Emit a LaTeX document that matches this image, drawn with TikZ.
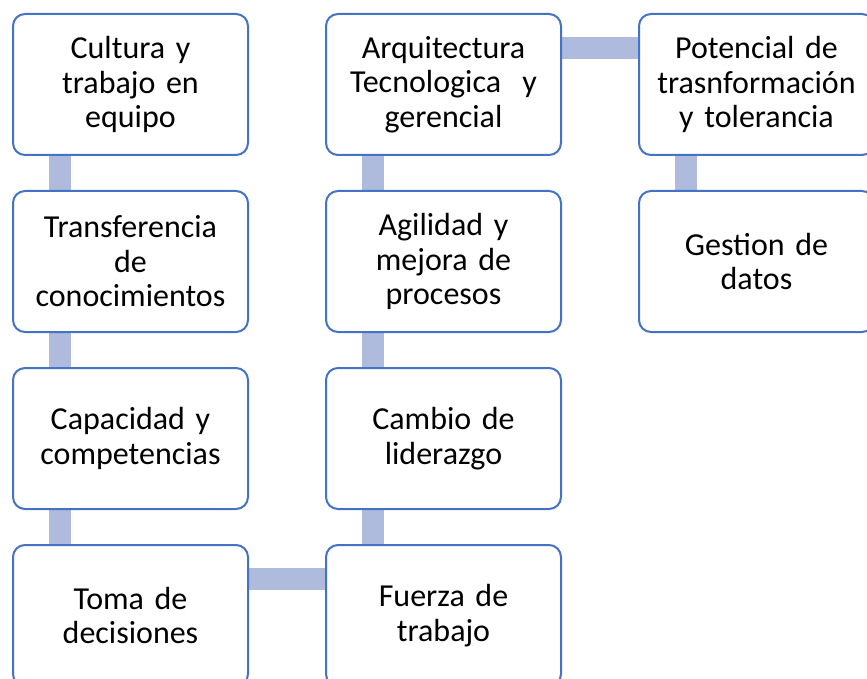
\documentclass[tikz,border=0pt]{standalone}
\usepackage{fontspec}
\setmainfont{Carlito}
\usepackage{tikz}
\usetikzlibrary{positioning,backgrounds}
\definecolor{boxblue}{RGB}{68,114,196}
\definecolor{barblue}{RGB}{174,187,221}

\begin{document}
\begin{tikzpicture}[x=1pt, y=-1pt,
    box/.style={draw=boxblue, line width=2pt, fill=white, rectangle, rounded corners=12pt, minimum width=235pt, minimum height=141pt, text width=215pt, align=center, font=\fontsize{32}{34.5}\selectfont},
    bar/.style={draw=barblue, line width=22pt}]
    \useasboundingbox (0,0) rectangle (867,679);

    \node[box] (cultura) at (130.5,84.5) {Cultura y\\trabajo en\\equipo};
    \node[box] (transferencia) at (130.5,261.5) {Transferencia\\de\\conocimientos};
    \node[box] (capacidad) at (130.5,438.5) {Capacidad y\\competencias};
    \node[box] (toma) at (130.5,615.5) {Toma de\\decisiones};

    \node[box] (arquitectura) at (443.5,84.5) {Arquitectura\\Tecnologica~ y\\gerencial};
    \node[box] (agilidad) at (443.5,261.5) {Agilidad y\\mejora de\\procesos};
    \node[box] (cambio) at (443.5,438.5) {Cambio de\\liderazgo};
    \node[box] (fuerza) at (443.5,615.5) {Fuerza de\\trabajo};

    \node[box] (potencial) at (756.5,84.5) {Potencial de\\trasnformación\\y tolerancia};
    \node[box] (gestion) at (756.5,261.5) {Gestion de\\datos};

    \begin{scope}[on background layer]
        \draw[bar] ([xshift=48pt]cultura.south west) -- ([xshift=48pt]transferencia.north west);
        \draw[bar] ([xshift=48pt]transferencia.south west) -- ([xshift=48pt]capacidad.north west);
        \draw[bar] ([xshift=48pt]capacidad.south west) -- ([xshift=48pt]toma.north west);
        \draw[bar] ([yshift=-35pt]toma.north east) -- ([yshift=-35pt]fuerza.north west);
        \draw[bar] ([xshift=48pt]fuerza.north west) -- ([xshift=48pt]cambio.south west);
        \draw[bar] ([xshift=48pt]cambio.north west) -- ([xshift=48pt]agilidad.south west);
        \draw[bar] ([xshift=48pt]agilidad.north west) -- ([xshift=48pt]arquitectura.south west);
        \draw[bar] ([yshift=-35pt]arquitectura.north east) -- ([yshift=-35pt]potencial.north west);
        \draw[bar] ([xshift=48pt]potencial.south west) -- ([xshift=48pt]gestion.north west);
    \end{scope}
\end{tikzpicture}
\end{document}
